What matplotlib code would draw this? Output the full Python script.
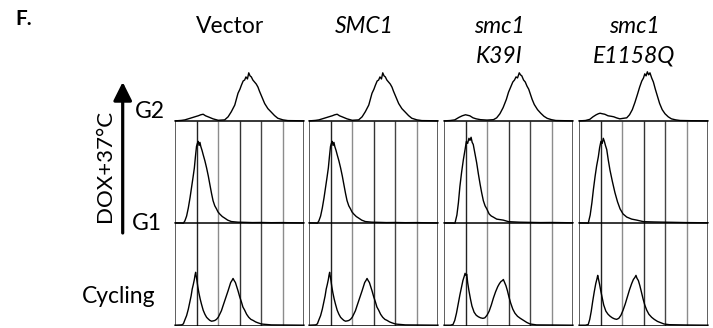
import matplotlib
matplotlib.use("Agg")
import matplotlib.pyplot as plt

plt.rcParams["font.family"] = ["Lato", "DejaVu Sans"]

# column titles (line 1, line 2, italic?)
TITLES = [("Vector", "", False), ("SMC1", "", True), ("smc1", "K39I", True), ("smc1", "E1158Q", True)]

# histogram traces: (DNA content in grid units, height in box units)
VECTOR_G2 = [(0, 0), (0.3, 0.005), (0.46, 0.01), (0.77, 0.03), (1.0, 0.045), (1.08, 0.05), (1.2, 0.06),
             (1.31, 0.065), (1.42, 0.05), (1.54, 0.04), (1.77, 0.02), (2.01, 0.006), (2.31, 0.01),
             (2.47, 0.04), (2.62, 0.09), (2.78, 0.155), (2.93, 0.27), (3.02, 0.31), (3.09, 0.35),
             (3.17, 0.39), (3.24, 0.40), (3.3, 0.43), (3.37, 0.41), (3.43, 0.47), (3.49, 0.44),
             (3.55, 0.43), (3.62, 0.40), (3.70, 0.38), (3.78, 0.36), (3.86, 0.33), (3.93, 0.29),
             (4.01, 0.25), (4.09, 0.21), (4.17, 0.17), (4.32, 0.12), (4.48, 0.085), (4.63, 0.052),
             (4.78, 0.026), (5.02, 0.01), (5.25, 0.003), (5.6, 0.002), (6.0, 0)]
VECTOR_G1 = [(0, 0.003), (0.3, 0.002), (0.39, 0.0), (0.46, 0.023), (0.54, 0.07), (0.62, 0.15), (0.70, 0.25),
             (0.77, 0.35), (0.84, 0.45), (0.90, 0.54), (0.95, 0.65), (1.00, 0.75), (1.04, 0.78),
             (1.08, 0.80), (1.12, 0.76), (1.16, 0.79), (1.20, 0.75), (1.26, 0.71), (1.31, 0.67),
             (1.39, 0.61), (1.47, 0.54), (1.55, 0.46), (1.62, 0.38), (1.70, 0.29), (1.77, 0.22),
             (1.85, 0.17), (1.93, 0.14), (2.0, 0.11), (2.08, 0.09), (2.2, 0.065), (2.31, 0.05),
             (2.45, 0.03), (2.62, 0.016), (2.93, 0.01), (3.3, 0.008), (3.6, 0.006), (4.0, 0.007),
             (4.48, 0.005), (5.0, 0.006), (5.5, 0.004), (6.0, 0.003)]
VECTOR_CYC = [(0, 0.003), (0.31, 0.006), (0.39, 0.016), (0.45, 0.05), (0.54, 0.097), (0.62, 0.16), (0.69, 0.23),
              (0.75, 0.29), (0.80, 0.356), (0.85, 0.40), (0.90, 0.45), (0.93, 0.49), (0.96, 0.52),
              (0.99, 0.48), (1.02, 0.44), (1.06, 0.38), (1.11, 0.32), (1.17, 0.26), (1.23, 0.21),
              (1.31, 0.15), (1.39, 0.11), (1.47, 0.08), (1.54, 0.065), (1.62, 0.05), (1.70, 0.042),
              (1.78, 0.045), (1.85, 0.049), (1.93, 0.06), (2.01, 0.08), (2.08, 0.11), (2.16, 0.145),
              (2.23, 0.19), (2.31, 0.24), (2.39, 0.29), (2.47, 0.34), (2.53, 0.38), (2.59, 0.42),
              (2.65, 0.44), (2.70, 0.46), (2.75, 0.44), (2.81, 0.42), (2.87, 0.38), (2.93, 0.34),
              (3.01, 0.28), (3.09, 0.23), (3.16, 0.18), (3.24, 0.15), (3.33, 0.11), (3.43, 0.08),
              (3.53, 0.06), (3.63, 0.05), (3.75, 0.035), (3.86, 0.026), (4.0, 0.016), (4.09, 0.013),
              (4.48, 0.006), (5.0, 0.005), (5.5, 0.004), (6.0, 0.003)]

# SMC1 traces look the same as Vector in the figure
SMC1_G2 = list(VECTOR_G2)
SMC1_G1 = list(VECTOR_G1)
SMC1_CYC = list(VECTOR_CYC)

K39I_G2 = [(0, 0), (0.3, 0.004), (0.5, 0.01), (0.7, 0.035), (0.85, 0.05), (1.0, 0.06), (1.1, 0.055), (1.2, 0.05),
           (1.35, 0.03), (1.5, 0.02), (1.7, 0.012), (2.0, 0.008), (2.3, 0.012), (2.45, 0.03), (2.6, 0.07),
           (2.75, 0.13), (2.9, 0.21), (3.0, 0.28), (3.1, 0.33), (3.2, 0.38), (3.28, 0.40), (3.35, 0.43),
           (3.42, 0.42), (3.5, 0.47), (3.56, 0.45), (3.62, 0.44), (3.7, 0.40), (3.78, 0.38), (3.86, 0.34),
           (3.94, 0.31), (4.02, 0.26), (4.1, 0.21), (4.2, 0.16), (4.35, 0.11), (4.5, 0.075), (4.65, 0.045),
           (4.8, 0.025), (5.0, 0.012), (5.2, 0.004), (5.6, 0.002), (6.0, 0)]
K39I_G1 = [(0, 0.003), (0.4, 0.002), (0.51, 0.0), (0.6, 0.08), (0.67, 0.2), (0.74, 0.36), (0.82, 0.5), (0.9, 0.62),
           (0.98, 0.72), (1.04, 0.80), (1.1, 0.78), (1.16, 0.83), (1.21, 0.81), (1.26, 0.84), (1.31, 0.79),
           (1.36, 0.77), (1.44, 0.68), (1.52, 0.59), (1.6, 0.48), (1.68, 0.38), (1.75, 0.30), (1.83, 0.22),
           (1.91, 0.17), (1.99, 0.14), (2.1, 0.09), (2.2, 0.07), (2.29, 0.06), (2.45, 0.04), (2.76, 0.03),
           (3.0, 0.015), (3.5, 0.01), (4.0, 0.008), (4.5, 0.006), (5.0, 0.007), (6.0, 0.004)]
K39I_CYC = [(0, 0.003), (0.3, 0.003), (0.42, 0.01), (0.5, 0.05), (0.58, 0.12), (0.66, 0.21), (0.74, 0.30),
            (0.82, 0.38), (0.88, 0.44), (0.94, 0.48), (0.98, 0.51), (1.02, 0.49), (1.06, 0.50), (1.1, 0.42),
            (1.16, 0.34), (1.23, 0.26), (1.3, 0.19), (1.4, 0.13), (1.5, 0.1), (1.6, 0.085), (1.7, 0.075),
            (1.81, 0.07), (1.9, 0.075), (2.0, 0.1), (2.1, 0.14), (2.2, 0.2), (2.3, 0.27), (2.4, 0.33),
            (2.5, 0.38), (2.58, 0.41), (2.65, 0.43), (2.72, 0.44), (2.76, 0.45), (2.82, 0.42), (2.88, 0.39),
            (2.95, 0.34), (3.02, 0.28), (3.1, 0.22), (3.2, 0.16), (3.3, 0.12), (3.42, 0.09), (3.55, 0.07),
            (3.7, 0.05), (3.85, 0.03), (4.0, 0.015), (4.3, 0.006), (5.0, 0.005), (6.0, 0.003)]

E1158Q_G2 = [(0, 0), (0.3, 0.004), (0.5, 0.015), (0.65, 0.04), (0.8, 0.06), (0.9, 0.07), (0.98, 0.075),
             (1.08, 0.07), (1.2, 0.065), (1.35, 0.05), (1.5, 0.045), (1.62, 0.04), (1.74, 0.03), (1.9, 0.02),
             (2.05, 0.025), (2.22, 0.03), (2.35, 0.06), (2.48, 0.11), (2.6, 0.18), (2.72, 0.26), (2.82, 0.33),
             (2.92, 0.39), (3.0, 0.42), (3.06, 0.46), (3.12, 0.44), (3.18, 0.48), (3.24, 0.45), (3.3, 0.47),
             (3.38, 0.42), (3.46, 0.38), (3.55, 0.31), (3.65, 0.24), (3.75, 0.17), (3.87, 0.11), (4.0, 0.07),
             (4.15, 0.04), (4.3, 0.02), (4.5, 0.01), (4.7, 0.004), (5.2, 0.002), (6.0, 0)]
E1158Q_G1 = [(0, 0.003), (0.35, 0.002), (0.43, 0.0), (0.52, 0.08), (0.6, 0.2), (0.67, 0.33), (0.75, 0.46),
             (0.82, 0.56), (0.9, 0.65), (0.96, 0.74), (1.02, 0.80), (1.08, 0.78), (1.13, 0.83), (1.18, 0.80),
             (1.23, 0.76), (1.29, 0.72), (1.36, 0.62), (1.44, 0.52), (1.55, 0.41), (1.67, 0.30), (1.79, 0.21),
             (1.91, 0.14), (2.05, 0.09), (2.22, 0.06), (2.45, 0.04), (2.69, 0.03), (3.0, 0.015), (3.5, 0.012),
             (4.0, 0.01), (4.5, 0.008), (5.0, 0.006), (6.0, 0.004)]
E1158Q_CYC = [(0, 0.003), (0.3, 0.003), (0.43, 0.01), (0.5, 0.06), (0.57, 0.14), (0.64, 0.24), (0.71, 0.33),
              (0.78, 0.41), (0.84, 0.46), (0.87, 0.49), (0.91, 0.45), (0.96, 0.40), (1.02, 0.33), (1.08, 0.27),
              (1.15, 0.2), (1.25, 0.14), (1.35, 0.11), (1.45, 0.09), (1.55, 0.075), (1.65, 0.065), (1.75, 0.06),
              (1.85, 0.07), (1.95, 0.1), (2.05, 0.15), (2.15, 0.21), (2.25, 0.28), (2.35, 0.35), (2.45, 0.41),
              (2.53, 0.45), (2.6, 0.47), (2.65, 0.49), (2.7, 0.46), (2.76, 0.44), (2.83, 0.39), (2.9, 0.33),
              (2.98, 0.26), (3.06, 0.2), (3.15, 0.15), (3.25, 0.11), (3.38, 0.08), (3.5, 0.06), (3.65, 0.04),
              (3.77, 0.03), (3.95, 0.015), (4.2, 0.008), (5.0, 0.005), (6.0, 0.003)]

TRACES = [
    (VECTOR_G2, VECTOR_G1, VECTOR_CYC),
    (SMC1_G2, SMC1_G1, SMC1_CYC),
    (K39I_G2, K39I_G1, K39I_CYC),
    (E1158Q_G2, E1158Q_G1, E1158Q_CYC),
]

W, H = 713, 328
PANEL_LEFT = [175, 309, 444, 579]
PANEL_W = 129
BOX_BOTTOM = 325.5
UNIT_PX = 102.3
AX_TOP = 62

GRID_COLORS = ["#222222", "#8c8c8c", "#333333", "#444444", "#8c8c8c"]

fig = plt.figure(figsize=(W / 100, H / 100), dpi=100)

bg = fig.add_axes([0, 0, 1, 1])
bg.set_xlim(0, W)
bg.set_ylim(H, 0)
bg.axis("off")

for i, (g2, g1, cyc) in enumerate(TRACES):
    ax = fig.add_axes([PANEL_LEFT[i] / W, (H - BOX_BOTTOM) / H, PANEL_W / W, (BOX_BOTTOM - AX_TOP) / H])
    ax.set_xlim(0, 6)
    ax.set_ylim(0, (BOX_BOTTOM - AX_TOP) / UNIT_PX)
    ax.axis("off")

    # frame and gates
    ax.vlines(range(1, 6), 0, 2, colors=GRID_COLORS, lw=1.0, zorder=1)
    ax.vlines([0, 6], 0, 2, colors="#333333", lw=1.1, zorder=2)
    ax.hlines([0, 1, 2], 0, 6, colors="black", lw=1.1, zorder=2)

    for base, trace in ((2, g2), (1, g1), (0, cyc)):
        xs = [p[0] for p in trace]
        ys = [base + p[1] for p in trace]
        ax.plot(xs, ys, color="black", lw=1.0, clip_on=False, zorder=3)

    line1, line2, ital = TITLES[i]
    cx = PANEL_LEFT[i] + PANEL_W / 2 - 9
    style = "italic" if ital else "normal"
    bg.text(cx, 33, line1, ha="center", va="baseline", fontsize=16.5, style=style)
    if line2:
        bg.text(cx, 63, line2, ha="center", va="baseline", fontsize=16.5, style=style)

bg.text(15, 25, "F.", ha="left", va="baseline", fontsize=15, fontweight="bold")
bg.text(135, 118, "G2", ha="left", va="baseline", fontsize=16.5)
bg.text(132, 230, "G1", ha="left", va="baseline", fontsize=16.5)
bg.text(82, 303, "Cycling", ha="left", va="baseline", fontsize=16.5)
bg.text(105, 166, "DOX+37°C", ha="center", va="center", rotation=90, fontsize=16)

bg.annotate("", xy=(122.7, 82), xytext=(122.7, 233),
            arrowprops=dict(arrowstyle="-|>", lw=2.3, color="black", mutation_scale=28,
                            shrinkA=0, shrinkB=0))

fig.savefig("out.png", dpi=100)
